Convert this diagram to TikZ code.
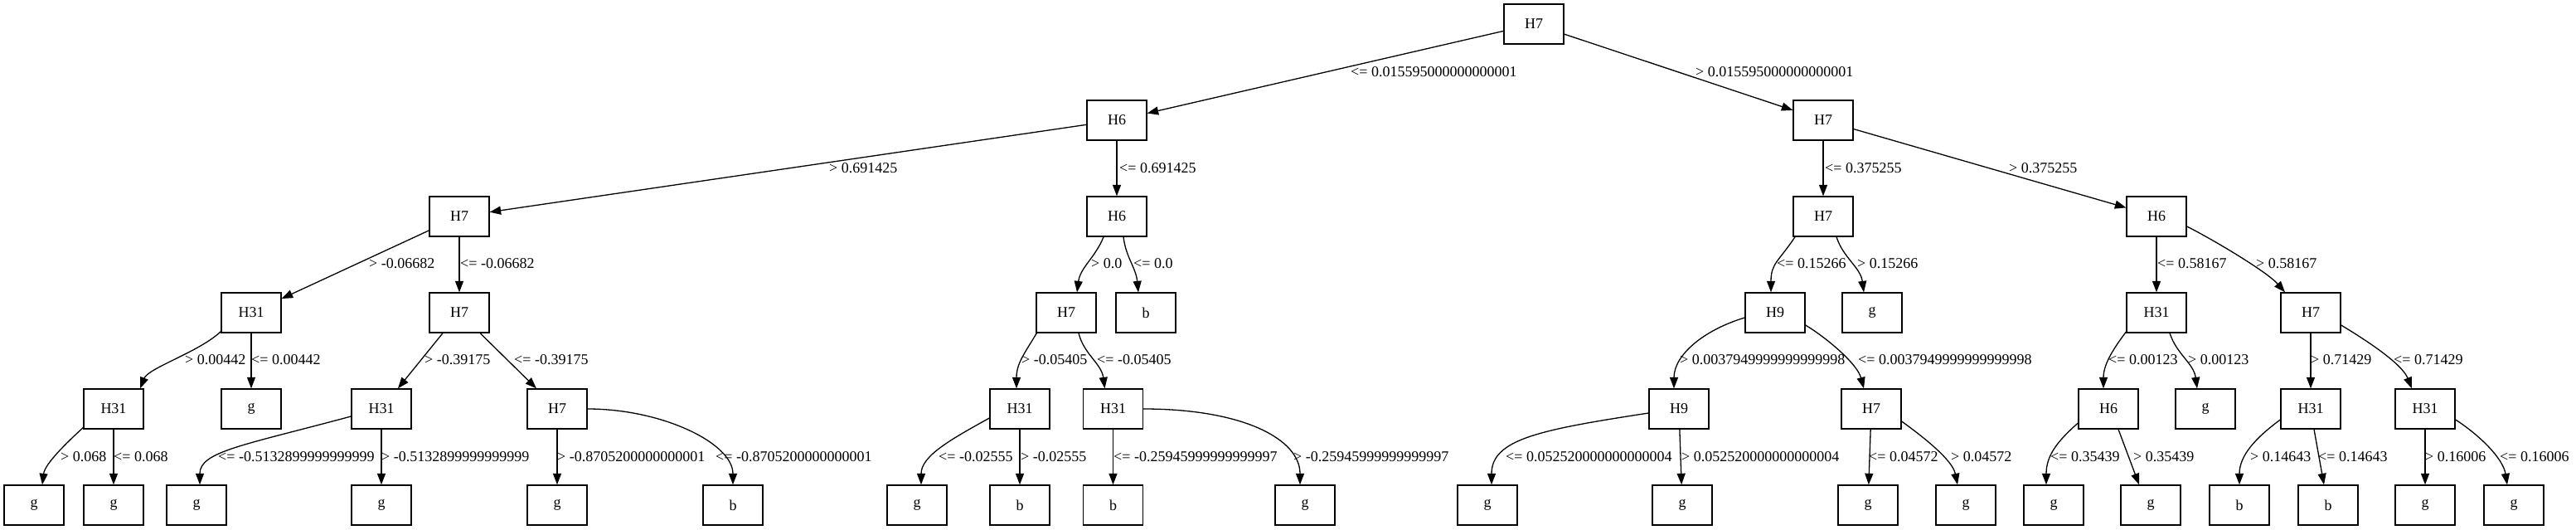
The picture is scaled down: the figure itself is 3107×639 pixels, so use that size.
\documentclass[tikz,border=0pt]{standalone}
\usepackage{fontspec}
\setmainfont{Liberation Serif}
\usetikzlibrary{arrows.meta}
\newcommand\dtfont{\fontsize{18}{21}\selectfont}
\tikzset{
  nd/.style={draw, line width=1.3pt, minimum width=72pt, minimum height=48pt, inner sep=0pt, font=\dtfont},
  edge/.style={line width=1.3pt, -{Triangle[length=13.5pt,width=10pt]}},
  lbl/.style={anchor=west, inner sep=0pt, font=\dtfont}
}
\begin{document}
\begin{tikzpicture}[x=1pt,y=-1pt]
\useasboundingbox (0,0) rectangle (3107,639);
% row 0
\node[nd] (r) at (1850,29) {H7};
% row 1
\node[nd] (a) at (1347,145) {H6};
\node[nd] (b) at (2199,145) {H7};
% row 2
\node[nd] (aa) at (554,261) {H7};
\node[nd] (ab) at (1347,261) {H6};
\node[nd] (ba) at (2199,261) {H7};
\node[nd] (bb) at (2601,261) {H6};
% row 3
\node[nd] (aaa) at (303,377) {H31};
\node[nd] (aab) at (554,377) {H7};
\node[nd] (aba) at (1286,377) {H7};
\node[nd] (abb) at (1382,377) {b};
\node[nd] (baa) at (2141,377) {H9};
\node[nd] (bab) at (2258,377) {g};
\node[nd] (bba) at (2601,377) {H31};
\node[nd] (bbb) at (2787,377) {H7};
% row 4
\node[nd] (aaaa) at (137,493) {H31};
\node[nd] (aaab) at (303,493) {g};
\node[nd] (aaba) at (460,493) {H31};
\node[nd] (aabb) at (672,493) {H7};
\node[nd] (abaa) at (1230,493) {H31};
\node[nd] (abab) at (1342.5,493) {H31};
\node[nd] (baaa) at (2025,493) {H9};
\node[nd] (baab) at (2257,493) {H7};
\node[nd] (bbaa) at (2543,493) {H6};
\node[nd] (bbab) at (2660,493) {g};
\node[nd] (bbba) at (2787,493) {H31};
\node[nd] (bbbb) at (2925,493) {H31};
% row 5
\node[nd] (l1) at (41,609) {g};
\node[nd] (l2) at (137,609) {g};
\node[nd] (l3) at (237,609) {g};
\node[nd] (l4) at (460,609) {g};
\node[nd] (l5) at (672,609) {g};
\node[nd] (l6) at (884,609) {b};
\node[nd] (l7) at (1106,609) {g};
\node[nd] (l8) at (1230,609) {b};
\node[nd] (l9) at (1342.5,609) {b};
\node[nd] (l10) at (1574,609) {g};
\node[nd] (l11) at (1794,609) {g};
\node[nd] (l12) at (2029,609) {g};
\node[nd] (l13) at (2253,609) {g};
\node[nd] (l14) at (2371,609) {g};
\node[nd] (l15) at (2477,609) {g};
\node[nd] (l16) at (2594,609) {g};
\node[nd] (l17) at (2701,609) {b};
\node[nd] (l18) at (2808,609) {b};
\node[nd] (l19) at (2925,609) {g};
\node[nd] (l20) at (3032,609) {g};

% edges row 0-1
\draw[edge] (r) -- (a);
\draw[edge] (r) -- (b);
% row 1-2
\draw[edge] (a) -- (aa);
\draw[edge] (a) -- (ab);
\draw[edge] (b) -- (ba);
\draw[edge] (b) -- (bb);
% row 2-3
\draw[edge] (aa) -- (aaa);
\draw[edge] (aa) -- (aab);
\draw[edge] ([xshift=-16pt]ab.south) .. controls +(-10,25) and +(4,-30) .. ([xshift=13pt]aba.north);
\draw[edge] ([xshift=8pt]ab.south) .. controls +(3,25) and +(-3,-30) .. ([xshift=-9pt]abb.north);
\draw[edge] ([xshift=-34pt]ba.south) .. controls +(-20,30) and +(0,-35) .. ([xshift=-5pt]baa.north);
\draw[edge] ([xshift=16pt]ba.south) .. controls +(8,25) and +(-4,-30) .. ([xshift=-10pt]bab.north);
\draw[edge] (bb) -- (bba);
\draw[edge] ([yshift=-12pt]bb.east) .. controls +(30,15) and +(-22,-25) .. ([xshift=-31pt]bbb.north);
% row 3-4
\draw[edge] ([xshift=1pt,yshift=3pt]aaa.south west) .. controls +(-25,25) and +(10,-25) .. ([xshift=32pt]aaaa.north);
\draw[edge] (aaa) -- (aaab);
\draw[edge] (aab) -- (aaba);
\draw[edge] (aab) -- (aabb);
\draw[edge] ([xshift=1pt]aba.south west) .. controls +(-15,25) and +(0,-30) .. ([xshift=-4pt]abaa.north);
\draw[edge] ([xshift=15pt]aba.south) .. controls +(6,25) and +(-4,-30) .. ([xshift=-10pt]abab.north);
\draw[edge] ([yshift=-6pt]baa.west) .. controls +(-50,15) and +(0,-40) .. ([xshift=-6pt]baaa.north);
\draw[edge] ([yshift=-15pt]baa.east) .. controls +(25,15) and +(-8,-30) .. ([xshift=-9pt]baab.north);
\draw[edge] ([xshift=1pt,yshift=3pt]bba.south west) .. controls +(-15,20) and +(0,-30) .. ([xshift=-6pt]bbaa.north);
\draw[edge] ([xshift=16pt]bba.south) .. controls +(8,25) and +(-4,-30) .. ([xshift=-10pt]bbab.north);
\draw[edge] (bbb) -- (bbba);
\draw[edge] ([yshift=-15pt]bbb.east) .. controls +(30,18) and +(-12,-30) .. ([xshift=-16pt]bbbb.north);
% row 4-5
\draw[edge] ([xshift=1pt,yshift=3pt]aaaa.south west) .. controls +(-20,18) and +(3,-25) .. ([xshift=10pt]l1.north);
\draw[edge] (aaaa) -- (l2);
\draw[edge] ([yshift=-9pt]aaba.west) .. controls +(-130,35) and +(0,-40) .. ([xshift=4pt]l3.north);
\draw[edge] (aaba) -- (l4);
\draw[edge] (aabb) -- (l5);
\draw[edge] (aabb.east) .. controls +(90,0) and +(0,-50) .. (l6.north);
\draw[edge] ([yshift=-11pt]abaa.west) .. controls +(-45,25) and +(0,-35) .. ([xshift=5pt]l7.north);
\draw[edge] (abaa) -- (l8);
\draw[edge] (abab) -- (l9);
\draw[edge] (abab.east) .. controls +(120,0) and +(0,-55) .. ([xshift=-6pt]l10.north);
\draw[edge] ([yshift=-5pt]baaa.west) .. controls +(-130,20) and +(0,-55) .. ([xshift=5pt]l11.north);
\draw[edge] (baaa) -- (l12);
\draw[edge] (baab) -- (l13);
\draw[edge] ([yshift=-15pt]baab.east) .. controls +(25,18) and +(-6,-30) .. ([xshift=-10pt]l14.north);
\draw[edge] ([yshift=-17pt]bbaa.west) .. controls +(-25,22) and +(0,-35) .. ([xshift=-9pt]l15.north);
\draw[edge] ([xshift=12pt]bbaa.south) -- ([xshift=-14pt]l16.north);
\draw[edge] ([yshift=-13pt]bbba.west) .. controls +(-30,22) and +(0,-35) .. (l17.north);
\draw[edge] ([xshift=4pt]bbba.south) -- ([xshift=-5pt]l18.north);
\draw[edge] (bbbb) -- (l19);
\draw[edge] ([yshift=-13pt]bbbb.east) .. controls +(28,18) and +(-5,-32) .. ([xshift=-8pt]l20.north);

% labels row 0-1
\node[lbl] (t1) at (1629,87) {<= 0.015595000000000001};
\node[lbl] (t2) at (2045,87) {> 0.015595000000000001};
% row 1-2
\node[lbl] (t3) at (1000,203) {> 0.691425};
\node[lbl] (t4) at (1350,203) {<= 0.691425};
\node[lbl] (t5) at (2201,203) {<= 0.375255};
\node[lbl] (t6) at (2423,203) {> 0.375255};
% row 2-3
\node[lbl] (t7) at (445,318) {> -0.06682};
\node[lbl] (t8) at (555,318) {<= -0.06682};
\node[lbl] (t9) at (1316,318) {> 0.0};
\node[lbl] (t10) at (1367,318) {<= 0.0};
\node[lbl] (t11) at (2143,318) {<= 0.15266};
\node[lbl] (t12) at (2240,318) {> 0.15266};
\node[lbl] (t13) at (2602,318) {<= 0.58167};
\node[lbl] (t14) at (2721,318) {> 0.58167};
% row 3-4
\node[lbl] (t15) at (223,434) {> 0.00442};
\node[lbl] (t16) at (303,434) {<= 0.00442};
\node[lbl] (t17) at (512,434) {> -0.39175};
\node[lbl] (t18) at (620,434) {<= -0.39175};
\node[lbl] (t19) at (1232,434) {> -0.05405};
\node[lbl] (t20) at (1323,434) {<= -0.05405};
\node[lbl] (t21) at (2026,434) {> 0.0037949999999999998};
\node[lbl] (t22) at (2241,434) {<= 0.0037949999999999998};
\node[lbl] (t23) at (2543,434) {<= 0.00123};
\node[lbl] (t24) at (2639,434) {> 0.00123};
\node[lbl] (t25) at (2787,434) {> 0.71429};
\node[lbl] (t26) at (2887,434) {<= 0.71429};
% row 4-5
\node[lbl] (t27) at (73,551) {> 0.068};
\node[lbl] (t28) at (137,551) {<= 0.068};
\node[lbl] (t29) at (263,551) {<= -0.5132899999999999};
\node[lbl] (t30) at (460,551) {> -0.5132899999999999};
\node[lbl] (t31) at (672,551) {> -0.8705200000000001};
\node[lbl] (t32) at (863,551) {<= -0.8705200000000001};
\node[lbl] (t33) at (1132,551) {<= -0.02555};
\node[lbl] (t34) at (1231,551) {> -0.02555};
\node[lbl] (t35) at (1343,551) {<= -0.25945999999999997};
\node[lbl] (t36) at (1560,551) {> -0.25945999999999997};
\node[lbl] (t37) at (1816,551) {<= 0.052520000000000004};
\node[lbl] (t38) at (2028,551) {> 0.052520000000000004};
\node[lbl] (t39) at (2254,551) {<= 0.04572};
\node[lbl] (t40) at (2353,551) {> 0.04572};
\node[lbl] (t41) at (2473,551) {<= 0.35439};
\node[lbl] (t42) at (2573,551) {> 0.35439};
\node[lbl] (t43) at (2714,551) {> 0.14643};
\node[lbl] (t44) at (2796,551) {<= 0.14643};
\node[lbl] (t45) at (2925,551) {> 0.16006};
\node[lbl] (t46) at (3015,551) {<= 0.16006};
\end{tikzpicture}
\end{document}
